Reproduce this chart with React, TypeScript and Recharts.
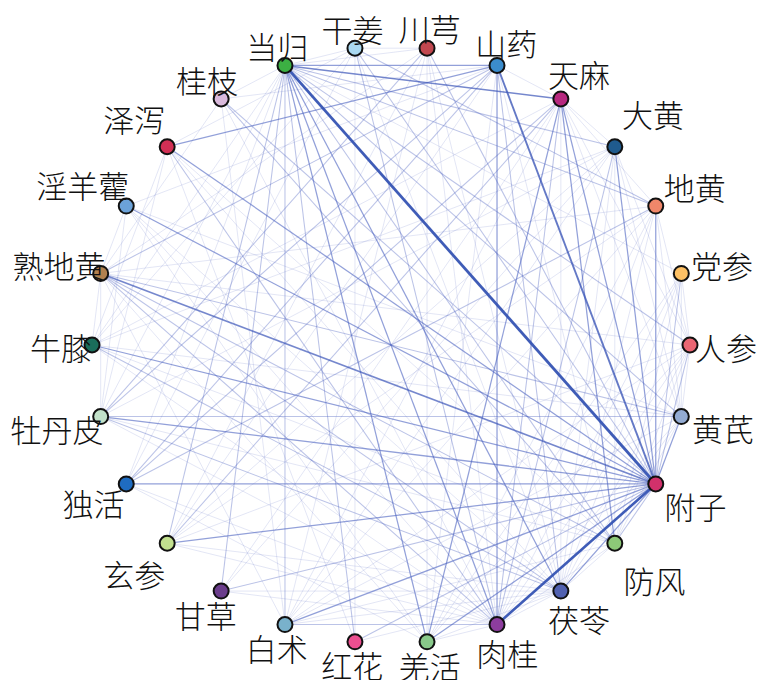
import { ScatterChart, Scatter, XAxis, YAxis } from "recharts";

// herbs in circle order, counter-clockwise starting at 3 o'clock
const herbs = [
  "人参", "党参", "地黄", "大黄", "天麻", "山药", "川芎", "干姜", "当归",
  "桂枝", "泽泻", "淫羊藿", "熟地黄", "牛膝", "牡丹皮", "独活", "玄参",
  "甘草", "白术", "红花", "羌活", "肉桂", "茯苓", "防风", "附子", "黄芪",
];

const herbColors = [
  "#ea6673", "#fdc064", "#f0876a", "#1f5b8e", "#b7287f", "#3b8ccc", "#c1474f", "#aad9f1", "#3cb043",
  "#d9b9dc", "#d12f55", "#6ba2d9", "#b1814f", "#1a6e5b", "#c2e1c9", "#1f6cc1", "#c2e08f",
  "#6b3d8c", "#79b1cb", "#ec4f90", "#89c98a", "#8d3d9e", "#5161b0", "#8dc878", "#d1316b", "#93abd2",
];

// [herb, herb, co-occurrence strength 1..8]
const edges: [string, string, number][] = [
  ["附子", "当归", 8], ["附子", "肉桂", 7], ["附子", "山药", 5], ["附子", "熟地黄", 4],
  ["附子", "淫羊藿", 3], ["附子", "泽泻", 3], ["附子", "独活", 3], ["附子", "地黄", 3],
  ["附子", "天麻", 3], ["附子", "黄芪", 3], ["附子", "人参", 2], ["附子", "党参", 2],
  ["附子", "大黄", 3], ["附子", "茯苓", 3], ["附子", "防风", 2], ["附子", "羌活", 3],
  ["附子", "白术", 3], ["附子", "玄参", 3], ["附子", "甘草", 2], ["附子", "牡丹皮", 3],
  ["附子", "牛膝", 3], ["附子", "桂枝", 2], ["附子", "川芎", 2], ["附子", "干姜", 2],
  ["附子", "红花", 2],
  ["当归", "天麻", 4], ["当归", "山药", 3], ["当归", "大黄", 2], ["当归", "地黄", 2],
  ["当归", "干姜", 1], ["当归", "川芎", 1], ["当归", "桂枝", 1], ["当归", "白术", 2],
  ["当归", "肉桂", 3], ["当归", "羌活", 3], ["当归", "茯苓", 3], ["当归", "红花", 2],
  ["当归", "防风", 2], ["当归", "甘草", 2], ["当归", "玄参", 2], ["当归", "独活", 1],
  ["当归", "黄芪", 2], ["当归", "人参", 2], ["当归", "党参", 1], ["当归", "牡丹皮", 1],
  ["当归", "牛膝", 1],
  ["山药", "肉桂", 3], ["山药", "泽泻", 3], ["山药", "熟地黄", 2], ["山药", "牡丹皮", 2],
  ["山药", "独活", 2], ["山药", "玄参", 1], ["山药", "茯苓", 2], ["山药", "防风", 1],
  ["山药", "羌活", 1], ["山药", "桂枝", 1], ["山药", "天麻", 1], ["山药", "淫羊藿", 1],
  ["天麻", "羌活", 3], ["天麻", "肉桂", 2], ["天麻", "玄参", 2], ["天麻", "防风", 3],
  ["天麻", "茯苓", 1], ["天麻", "大黄", 1], ["天麻", "白术", 1], ["天麻", "甘草", 1],
  ["天麻", "独活", 2], ["天麻", "牛膝", 1], ["天麻", "黄芪", 1], ["天麻", "人参", 1],
  ["天麻", "地黄", 1],
  ["大黄", "防风", 1], ["大黄", "茯苓", 1], ["大黄", "肉桂", 2], ["大黄", "白术", 1],
  ["大黄", "甘草", 1], ["大黄", "牡丹皮", 1], ["大黄", "人参", 1], ["大黄", "黄芪", 1],
  ["大黄", "玄参", 1], ["大黄", "牛膝", 1],
  ["地黄", "独活", 2], ["地黄", "干姜", 2], ["地黄", "玄参", 1], ["地黄", "羌活", 1],
  ["地黄", "肉桂", 1], ["地黄", "茯苓", 1], ["地黄", "黄芪", 1], ["地黄", "人参", 1],
  ["地黄", "熟地黄", 1], ["地黄", "白术", 1],
  ["党参", "黄芪", 1], ["党参", "茯苓", 1], ["党参", "肉桂", 1], ["党参", "防风", 1],
  ["党参", "羌活", 1], ["党参", "人参", 1],
  ["人参", "黄芪", 1], ["人参", "肉桂", 1], ["人参", "茯苓", 1], ["人参", "防风", 1],
  ["人参", "熟地黄", 1], ["人参", "白术", 1], ["人参", "羌活", 1],
  ["黄芪", "牡丹皮", 2], ["黄芪", "熟地黄", 2], ["黄芪", "肉桂", 1], ["黄芪", "白术", 1],
  ["黄芪", "茯苓", 1], ["黄芪", "防风", 1], ["黄芪", "牛膝", 1], ["黄芪", "淫羊藿", 1],
  ["川芎", "羌活", 1], ["川芎", "牡丹皮", 2], ["川芎", "茯苓", 1], ["川芎", "肉桂", 1],
  ["川芎", "白术", 1], ["川芎", "玄参", 1], ["川芎", "熟地黄", 1], ["川芎", "干姜", 1],
  ["干姜", "红花", 1], ["干姜", "茯苓", 1], ["干姜", "肉桂", 2], ["干姜", "牛膝", 1],
  ["干姜", "独活", 1], ["干姜", "泽泻", 1],
  ["桂枝", "肉桂", 1], ["桂枝", "白术", 1], ["桂枝", "熟地黄", 1], ["桂枝", "防风", 2],
  ["泽泻", "防风", 1], ["泽泻", "红花", 1], ["泽泻", "牡丹皮", 1], ["泽泻", "牛膝", 1],
  ["泽泻", "肉桂", 2], ["泽泻", "茯苓", 1],
  ["淫羊藿", "熟地黄", 1], ["淫羊藿", "牡丹皮", 1], ["淫羊藿", "肉桂", 1],
  ["淫羊藿", "茯苓", 1], ["淫羊藿", "羌活", 1],
  ["熟地黄", "肉桂", 2], ["熟地黄", "茯苓", 2], ["熟地黄", "防风", 2], ["熟地黄", "羌活", 1],
  ["熟地黄", "牡丹皮", 1], ["熟地黄", "牛膝", 1], ["熟地黄", "白术", 1],
  ["牛膝", "茯苓", 2], ["牛膝", "防风", 1], ["牛膝", "肉桂", 1],
  ["牡丹皮", "茯苓", 2], ["牡丹皮", "防风", 1], ["牡丹皮", "肉桂", 1],
  ["独活", "羌活", 1], ["独活", "肉桂", 1],
  ["玄参", "茯苓", 1], ["玄参", "肉桂", 1], ["玄参", "人参", 1],
  ["甘草", "茯苓", 1], ["甘草", "肉桂", 1],
  ["白术", "肉桂", 2], ["白术", "茯苓", 1], ["白术", "防风", 1],
  ["红花", "茯苓", 1],
  ["羌活", "肉桂", 1], ["羌活", "茯苓", 1],
  ["肉桂", "茯苓", 1], ["肉桂", "防风", 1],
  ["茯苓", "防风", 1],
];

// layout (pixels inside the svg)
const W = 756;
const H = 672;
const CX = 383;
const CY = 337;
const R = 299;
// distance of each label centre from the circle centre, px
const labelDist = [
  335, 341, 343, 350, 331, 325, 321, 320, 321, 324, 343, 348, 342,
  330, 344, 336, 343, 326, 322, 321, 322, 328, 331, 352, 344, 342,
];

const step = (2 * Math.PI) / herbs.length;
const nodes = herbs.map((name, i) => ({
  name,
  color: herbColors[i],
  x: Math.cos(i * step),
  y: Math.sin(i * step),
}));
const labels = herbs.map((name, i) => ({
  name,
  x: (Math.cos(i * step) * labelDist[i]) / R,
  y: (Math.sin(i * step) * labelDist[i]) / R,
}));

const byName: Record<string, { x: number; y: number }> = {};
nodes.forEach((n) => (byName[n.name] = n));

function edgeStyle(w: number) {
  if (w >= 8) return { stroke: "#3553b3", strokeWidth: 2.8, strokeOpacity: 0.95 };
  if (w >= 7) return { stroke: "#3553b3", strokeWidth: 2.6, strokeOpacity: 0.95 };
  if (w >= 5) return { stroke: "#3d57b8", strokeWidth: 1.9, strokeOpacity: 0.8 };
  if (w >= 4) return { stroke: "#4059ba", strokeWidth: 1.6, strokeOpacity: 0.72 };
  if (w >= 3) return { stroke: "#4a60c0", strokeWidth: 1.25, strokeOpacity: 0.6 };
  if (w >= 2) return { stroke: "#5468c4", strokeWidth: 1.05, strokeOpacity: 0.4 };
  return { stroke: "#6074c8", strokeWidth: 0.9, strokeOpacity: 0.2 };
}

const empty = () => <g />;

export default function App() {
  const sorted = [...edges].sort((a, b) => a[2] - b[2]);
  return (
    <ScatterChart width={W} height={H} margin={{ top: 0, right: 0, bottom: 0, left: 0 }}>
      <XAxis
        type="number"
        dataKey="x"
        hide
        domain={[-CX / R, (W - CX) / R]}
      />
      <YAxis
        type="number"
        dataKey="y"
        hide
        domain={[-(H - CY) / R, CY / R]}
      />
      {sorted.map(([a, b, w], k) => (
        <Scatter
          key={"e" + k}
          data={[byName[a], byName[b]]}
          line={edgeStyle(w)}
          shape={empty}
          isAnimationActive={false}
        />
      ))}
      <Scatter
        data={nodes}
        isAnimationActive={false}
        shape={(p: any) => (
          <circle cx={p.cx} cy={p.cy} r={7.5} fill={p.payload.color} stroke="#111" strokeWidth={2} />
        )}
      />
      <Scatter
        data={labels}
        isAnimationActive={false}
        shape={(p: any) => (
          <text
            x={p.cx}
            y={p.cy + 1}
            textAnchor="middle"
            dominantBaseline="central"
            fontSize={31}
            fontWeight={300}
            fontFamily="'Noto Sans CJK SC', sans-serif"
            fill="#111"
          >
            {p.payload.name}
          </text>
        )}
      />
    </ScatterChart>
  );
}
